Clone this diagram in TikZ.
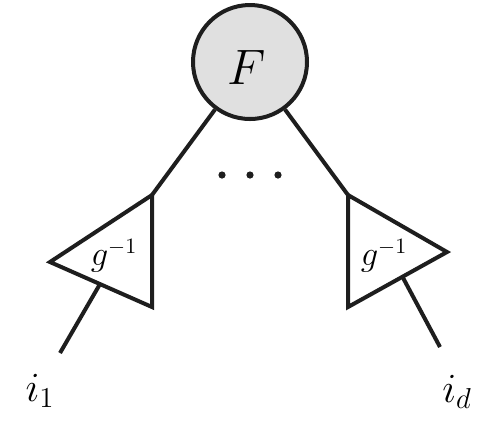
\documentclass[tikz,border=0pt]{standalone}
\usetikzlibrary{calc}
\definecolor{nodegray}{RGB}{224,224,224}
\definecolor{inkblack}{RGB}{30,30,30}
\begin{document}
\begin{tikzpicture}[x=0.5pt,y=-0.5pt, line width=2pt, draw=inkblack,
  every node/.style={inner sep=0pt},
  fnode/.style={circle, draw=inkblack, fill=nodegray, minimum size=57pt},
  flab/.style={font=\fontsize{24}{28}\selectfont},
  tri/.style={draw=inkblack, line join=miter},
  glab/.style={font=\fontsize{16}{19}\selectfont},
  ilab/.style={font=\fontsize{22}{26}\selectfont},
  dotnode/.style={circle, fill=inkblack, minimum size=3.6pt}]
\useasboundingbox (0,0) rectangle (501,447);
% root
\node[fnode] (F) at (250,62) {};
\node[flab] (Ft) at (247,67) {$F$};
% left triangle
\coordinate (L1) at (152,195);
\coordinate (L2) at (152,307);
\coordinate (L3) at (50,262);
\draw[tri] (L1) -- (L2) -- (L3) -- cycle;
\node[glab] (gl) at (114,256) {$g^{-1}$};
\coordinate (Lm) at ($(L3)!0.49!(L2)$);
% right triangle
\coordinate (R1) at (348,195);
\coordinate (R2) at (348,307);
\coordinate (R3) at (447,252);
\draw[tri] (R1) -- (R2) -- (R3) -- cycle;
\node[glab] (gr) at (384,256) {$g^{-1}$};
\coordinate (Rm) at ($(R3)!0.45!(R2)$);
% dots
\node[dotnode] (d1) at (222,175) {};
\node[dotnode] (d2) at (250,175) {};
\node[dotnode] (d3) at (278,175) {};
% leaves
\coordinate (e1) at (60,353);
\coordinate (ed) at (440,347);
\node[ilab] (i1) at (40,391) {$i_1$};
\node[ilab] (id) at (457,392) {$i_d$};
% connectors
\draw (F) -- (L1);
\draw (F) -- (R1);
\draw (Lm) -- (e1);
\draw (Rm) -- (ed);
\end{tikzpicture}
\end{document}
